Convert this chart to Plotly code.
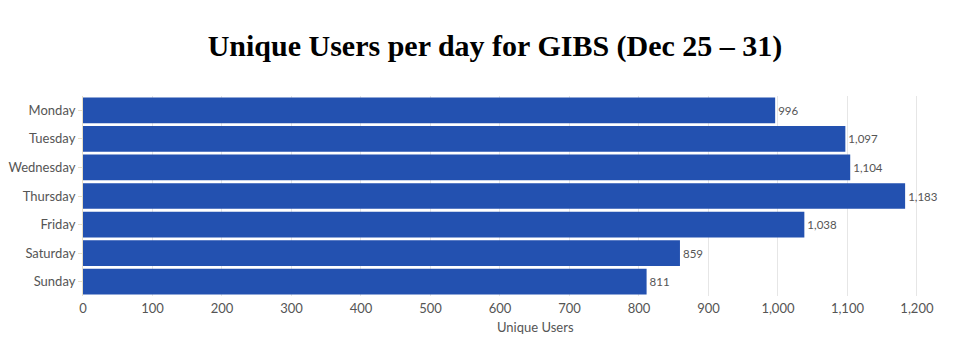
import plotly.graph_objects as go

days = ["Monday", "Tuesday", "Wednesday", "Thursday", "Friday", "Saturday", "Sunday"]
users = [996, 1097, 1104, 1183, 1038, 859, 811]
x_ticks = list(range(0, 1300, 100))
x_tick_labels = ["0", "100", "200", "300", "400", "500", "600", "700", "800", "900", "1,000", "1,100", "1,200"]

fig = go.Figure(go.Bar(
    x=users, y=days, orientation="h",
    marker=dict(color="#2351B0", line=dict(width=0)),
    text=[f"{v:,}" for v in users],
    textposition="outside",
    textfont=dict(family="Lato", size=11.5, color="#555555"),
    cliponaxis=False,
))

L, R = 83, 20
pw = 955 - L - R

fig.update_layout(
    width=955, height=353,
    margin=dict(l=L, r=R, t=96, b=57, autoexpand=False),
    paper_bgcolor="white", plot_bgcolor="white",
    title=dict(text="<b>Unique Users per day for GIBS (Dec 25 – 31)</b>",
               font=dict(family="Liberation Serif", size=30, color="black"),
               x=495 / 955, xanchor="center", y=1 - 45 / 353, yanchor="middle"),
    bargap=0.1,
    showlegend=False,
    font=dict(family="Lato", color="#555555"),
    annotations=[dict(text="Unique Users", xref="paper", yref="paper",
                      x=(535 - L) / pw, y=-(327 - 296) / 200, xanchor="center", yanchor="middle",
                      showarrow=False, font=dict(family="Lato", size=13, color="#555555"))],
)
fig.update_xaxes(
    range=[0, 1226], tickvals=x_ticks, ticktext=x_tick_labels,
    showgrid=True, gridcolor="#E6E6E6", gridwidth=1, zeroline=False,
    tickfont=dict(size=13, color="#555555"),
    ticks="", ticklabelstandoff=3, automargin=False,
)
fig.update_yaxes(
    autorange="reversed", showgrid=False,
    tickfont=dict(size=13, color="#555555"),
    ticks="outside", ticklen=4, tickcolor="#E8E0C8",
    showline=True, linecolor="#E8E0C8", linewidth=1, automargin=False,
)

fig.write_html("out.html")
